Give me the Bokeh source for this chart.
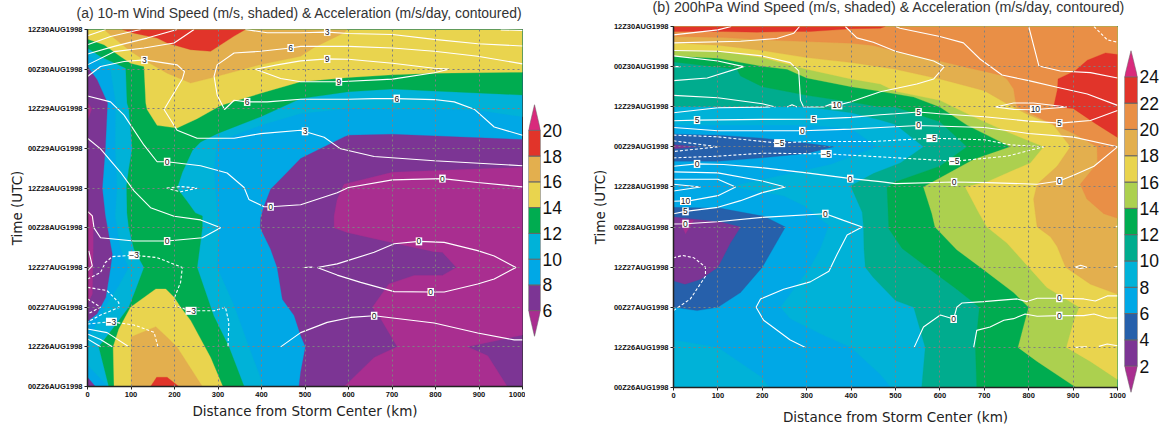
from bokeh.plotting import figure
from bokeh.layouts import row
from bokeh.models import FixedTicker, ColumnDataSource, Range1d, Title
from bokeh.core.properties import value
from bokeh.embed import file_html
from bokeh.resources import INLINE

# ---- axes ----
distance_ticks = [0, 100, 200, 300, 400, 500, 600, 700, 800, 900, 1000]
time_hours = [0, 12, 24, 36, 48, 60, 72, 84, 96, 108]
time_labels = ["00Z26AUG1998", "12Z26AUG1998", "00Z27AUG1998", "12Z27AUG1998", "00Z28AUG1998",
               "12Z28AUG1998", "00Z29AUG1998", "12Z29AUG1998", "00Z30AUG1998", "12Z30AUG1998"]
title_a = "(a) 10-m Wind Speed (m/s, shaded) & Acceleration (m/s/day, contoured)"
title_b = "(b) 200hPa Wind Speed (m/s, shaded) & Acceleration (m/s/day, contoured)"

# ---- colours by wind band ----
RED = "#E1342A"; TAN = "#E3AF4E"; YEL = "#E9D44E"; GRN = "#00AC50"; CYA = "#00B2D8"; BLU = "#00A8E6"
PUR = "#7C3594"; MAG = "#A92E90"; LGR = "#ACD04F"; TEA = "#00AC8E"; ORA = "#E98F46"; DBL = "#2660AB"; PNK = "#D92A7C"

# ---- panel (a) shaded bands, (km, hours since 00Z26) outlines of iso-speed regions ----
a_ge10 = [[(0,100.3),(53,95.8),(65,85.8),(64,72),(68,60),(64,51.6),(76,41.5),(95,36),(72,30.5),(45,25),(15,17.4),(0,14.4),(0,6.5),(47,0),(405,0),(371,12),(337,24.4),(298,36),(302,48),(298,52.5),(291,65.8),(298,74),(398,79),(490,82.6),(600,84.1),(697,83.9),(797,83.9),(897,83.6),(1000,81.6),(1000,108),(0,108)]]
a_ge12 = [[(0,102.4),(30,99.8),(88,96.3),(91,85.8),(95,84),(103,72),(95,65.8),(90,60.7),(91,52.5),(95,48),(107,41.5),(130,36),(110,29),(95,24),(61,18),(26,12),(49,0),(360,0),(325,12),(290,21.4),(252,36),(264,48),(264,51.6),(248,52.5),(229,56),(206,60),(218,64.8),(241,71.4),(260,74),(298,76.5),(398,81.6),(490,87.1),(600,89.2),(701,90),(797,89.4),(1000,88.2),(1000,108),(0,108)]]
a_ge14 = [[(0,105.1),(38,103.4),(76,99.8),(99,97.8),(130,96.8),(134,85.8),(137,83.8),(160,79),(206,78.2),(252,81),(306,85),(398,88.7),(490,92.2),(600,93.5),(701,94.3),(797,94.8),(1000,95.1),(1000,108),(0,108)],
          [(61,0),(59,12),(72,17.4),(99,24),(157,29.5),(180,29.5),(199,27),(214,24),(237,20),(283,8.8),(311,0)]]
a_ge16 = [[(38,108),(61,105.4),(99,101.4),(130,98.8),(183,94.8),(237,91.8),(283,93.3),(398,97.4),(490,99.9),(520,102.5),(590,107),(597,108)],
          [(100,0),(100,15),(157,18.1),(183,14.9),(206,11.9),(264,0)]]
a_ge18 = [[(80,108),(107,106.9),(160,105.4),(183,103.9),(237,101.9),(283,101.4),(337,106),(363,108)],
          [(145,0),(159,2.8),(183,2.8),(210,0)]]
a_le8 = [[(0,96.8),(22,92.8),(46,85.8),(41,72),(34,60),(41,51.6),(57,40),(53,36),(42,27),(22,22),(0,19.7)],
         [(0,2.8),(18,0),(0,0)],
         [(1000,74.7),(701,76.3),(600,76),(590,75.5),(490,69),(452,63.8),(421,59.7),(406,54.6),(398,51),(397,48),(421,41.5),(436,36),(448,26.4),(475,21.5),(490,15.4),(501,12),(490,4.3),(486,0),(1000,0)]]
a_le6 = [[(0,86),(10,84),(0,80.5)],
         [(0,53.5),(13,51.6),(13,48),(13,41.5),(11,28),(0,25)],
         [(1000,66.3),(701,64.8),(590,61.2),(574,56.6),(567,51.6),(567,48),(597,46.6),(704,43.4),(797,40.8),(816,40.6),(848,36),(816,33.6),(751,33.6),(693,31),(655,24),(674,20.5),(712,12),(659,8.8),(597,0.8),(590,0),(965,0),(920,9.3),(873,12),(1000,15.6)]]
a_layers = [(a_ge10, CYA), (a_ge12, GRN), (a_ge14, YEL), (a_ge16, TAN), (a_ge18, RED), (a_le8, PUR), (a_le6, MAG)]

# ---- panel (a) acceleration contours ----
a_solid = [
 [(0,106.1),(42,108)],
 [(0,103.4),(53,105.9),(122,108)],
 [(0,100.6),(61,102.9),(137,105.4),(206,108)],
 [(0,97.3),(61,101.3),(130,102.4),(199,103.9),(245,108)],
 [(0,93.8),(30,96.8),(84,98.3),(131,98.8),(206,97.3),(223,95.3),(218,93),(176,83.8),(206,77.5),(252,75.1),(337,75.1),(398,76.5),(490,77.5),(544,75.4),(582,71.9),(659,69.6),(797,68.3),(1000,66.8)],
 [(363,108),(413,107),(490,107),(551,107.2),(600,106.8),(701,106.5),(797,105),(897,103.7),(1000,103)],
 [(950,107.9),(1000,107.7)],
 [(1000,97.6),(897,99.9),(797,101.4),(701,102.4),(600,102.9),(490,102.9),(467,102.4),(398,101.4),(337,100.9),(298,97.3),(291,93.8),(298,88.2),(315,83.8),(337,86.6),(367,86.1),(413,86.1),(490,86.9),(600,86.9),(659,87.1),(711,87.1),(797,86.8),(843,86.1),(889,83.9),(935,78.5),(1000,76)],
 [(386,96),(436,97.3),(490,98.5),(551,99.1),(600,99),(701,97.8),(797,96.3),(831,96),(797,94.9),(701,93),(578,92.2),(490,92.2),(444,93.2),(386,96)],
 [(0,87.9),(53,86.1),(84,82.1),(130,73),(160,68),(183,68),(260,66.8),(321,64.6),(360,60.2),(371,56.6),(406,54.4),(421,54.4),(490,55),(574,58.6),(600,60.2),(701,62.5),(816,62.9),(897,61.7),(1000,60.4)],
 [(0,75.1),(30,71.9),(76,64.8),(107,59.2),(145,54.1),(199,51.5),(260,50.4),(306,48),(264,45),(183,44),(107,44),(30,45),(15,48),(11,51.6),(0,53)],
 [(528,36),(574,37.1),(659,40.6),(705,43.2),(762,43.9),(820,43.6),(897,41.1),(935,39.5),(985,36),(935,32.5),(897,31),(820,28.6),(789,28.6),(705,28.7),(628,31.5),(574,33.7),(528,36)],
 [(498,36),(517,36.1)],
 [(444,12),(490,16.3),(551,19.4),(605,20.9),(659,21.4),(797,19.2),(897,16.2),(981,14.1),(1000,14.1)],
 [(0,17.4),(45,16.3),(95,12)],
 [(0,15.9),(30,14.2),(57,12)],
 [(0,14.4),(30,12)],
 [(3,41),(11,36.5),(0,35)],
]
a_dashed = [
 [(182,60),(214,60.5),(252,60),(214,58.9),(182,60)],
 [(0,32.5),(30,34.5),(41,37.5),(57,39.3),(107,39.7),(160,39),(218,36),(214,31.5),(200,26.9),(200,24.4),(238,22.9),(291,22.9),(317,24),(325,19.4),(323,12)],
 [(0,30),(45,29),(72,25.4),(72,23.9),(30,21.6),(0,19.5)],
 [(0,26.5),(30,24),(0,21.9)],
 [(0,18.9),(53,19.6),(107,18.6),(153,16.4),(162,12)],
]
a_labels = ["3","3","3","6","6","6","9","9","0","0","0","0","0","0","0","\u22123","\u22123","\u22123"]
a_label_km = [131,551,500,467,367,711,551,578,183,421,816,183,762,789,659,107,238,55]
a_label_hr = [98.8,107.3,77.2,102.4,86.1,87.1,99.1,92.2,68,54.4,62.9,44,43.9,28.6,21.4,39.7,22.9,19.6]

# ---- panel (b) shaded bands ----
b_ge8 = [[(0,78.5),(300,78.5),(400,77.5),(459,72),(354,66.7),(204,62.3),(129,60.1),(249,57.3),(294,54.4),(350,48.5),(331,41.6),(308,36),(241,24),(263,20.6),(338,15.6),(400,12),(466,3.9),(490,0),(1000,0),(1000,108),(0,108)],
         [(0,14.2),(100,12),(200,2.9),(215,0),(0,0)]]
b_ge10 = [[(0,84),(300,84),(400,82.2),(466,80),(500,78.7),(563,72),(511,67.2),(450,64),(399,60.3),(425,52.4),(428,48),(429,41.6),(432,36),(450,32.9),(500,26),(541,24),(567,12),(559,0),(1000,0),(1000,108),(0,108)]]
b_ge12 = [[(0,97.4),(143,95.2),(151,93.2),(200,90),(300,87.4),(400,85.4),(466,83.9),(500,83.9),(600,79.5),(661,72),(600,66.2),(557,64.2),(496,61.3),(481,59.8),(485,47.5),(515,41.6),(571,36),(638,29.4),(689,24),(680,12),(683,0),(1000,0),(1000,108),(0,108)]]
b_ge14 = [[(0,99.2),(100,98.5),(200,96.1),(256,95.2),(300,92.6),(400,90),(466,88.6),(541,86.9),(600,83.9),(661,78.5),(759,72),(676,68.2),(563,60),(582,52),(589,48),(638,41.2),(691,36),(766,28.4),(800,24),(776,12),(819,7.8),(907,0),(1000,0),(1000,108),(0,108)]]
b_ge16 = [[(0,100.8),(100,100.6),(200,98.7),(300,95.2),(400,92.3),(466,90.8),(500,88.6),(600,85.9),(676,81),(751,76.5),(834,72),(804,67.2),(706,61.5),(657,60),(687,52.4),(706,48),(751,43.2),(800,36),(841,29.9),(914,24),(901,19.6),(885,12),(939,7.8),(1000,2.4),(1000,108),(0,108)]]
b_ge18 = [[(0,103.1),(100,102.4),(200,100.8),(300,98.7),(400,97.2),(500,95.2),(600,92.3),(700,88.8),(751,84.9),(800,81.5),(856,78.5),(894,72),(864,66.2),(819,60.8),(811,56.4),(815,52),(819,48),(849,45.1),(864,42.2),(883,36),(939,30.9),(1000,27.9),(1000,108),(0,108)]]
b_ge20 = [[(0,105),(114,104.7),(200,104),(300,103.5),(400,103),(450,102.3),(500,100.6),(600,97.7),(661,95.7),(713,94.2),(740,93.3),(751,92.3),(766,89.3),(770,85.9),(774,83.9),(834,80),(901,76),(954,72),(955,67.2),(916,60.8),(931,56.4),(969,52),(1000,50.6),(1000,108),(0,108)]]
b_ge22 = [[(0,106.5),(113,106.5),(188,106.3),(263,106.5),(308,106.5),(398,107.3),(466,107.5),(477,108),(0,108)],
          [(973,100.1),(1000,99.6),(1000,74.8),(950,79),(900,83.5),(856,83.9),(865,89.3),(866,92.3),(904,94.7),(932,97.9)]]
b_le6 = [[(0,75.8),(100,75.5),(200,74.6),(300,73.1),(361,72),(300,70),(200,68.7),(100,67.7),(0,67.7)],
         [(0,53.9),(106,53.6),(204,51.2),(252,48),(200,36),(151,28.4),(100,24),(53,23),(0,24)]]
b_le4 = [[(0,72.6),(53,72),(0,71.4)],
         [(0,51),(106,49.5),(151,48),(128,43.2),(100,36),(61,32.4),(26,30.9),(0,31.9)]]
b_le2 = [[(15,50),(45,50),(27,46)]]
b_layers = [(b_ge8, CYA), (b_ge10, TEA), (b_ge12, GRN), (b_ge14, LGR), (b_ge16, YEL), (b_ge18, TAN), (b_ge20, ORA), (b_ge22, RED), (b_le6, DBL), (b_le4, PUR), (b_le2, MAG)]

# ---- panel (b) acceleration contours ----
b_solid = [
 [(0,105.5),(100,107),(130,108)],
 [(0,103.1),(151,103.6),(233,104.4),(271,106),(284,108)],
 [(0,100.8),(100,100.6),(200,99.2),(263,97.2),(282,94.7),(286,85.9),(293,83.9),(338,83.9),(353,84.7),(368,84.4),(398,85.4),(466,88.5),(548,90.8),(586,92.3),(610,96),(586,97.7),(500,100.6),(450,103.3),(413,104.6),(387,108)],
 [(500,108),(510,107.5),(600,105),(653,103.1),(691,98.2),(740,93.5),(800,91.8),(864,89.8),(932,87.8),(1000,84.4)],
 [(800,108),(823,96.2),(871,94.7),(939,94.2),(1000,92.6)],
 [(0,96),(16,96)],
 [(0,91.8),(76,92.6),(158,96),(100,97.7),(0,99.2)],
 [(0,87.4),(100,86.7),(200,84.9),(230,83.9)],
 [(256,83.9),(267,84.6),(278,83.9)],
 [(0,82.2),(100,83.7),(218,83.9)],
 [(0,79.8),(53,80),(200,80.2),(316,80.3),(400,80.8),(466,81.6),(500,81.9),(552,82.4),(600,81.9),(700,81),(800,79.7),(870,79.1),(939,79.9),(1000,82.9)],
 [(0,77.8),(100,76.8),(290,76.8),(400,77.3),(466,77.8),(552,78.4),(700,77.8),(800,76),(901,74.9),(1000,72)],
 [(1000,72),(947,66.2),(901,63.5),(869,61.8),(819,60.8),(706,61.3),(632,61.5),(500,61),(466,61.6),(400,62.5),(300,64.2),(203,65.7),(113,66.7),(53,66.9),(0,66.2)],
 [(0,64.5),(100,64.2),(200,61.8),(252,60),(200,58.3),(151,55.9),(100,53.9),(27,52.7),(0,52)],
 [(0,62.3),(100,62.3),(140,60),(100,57.4),(38,55.9),(0,55.7)],
 [(0,60.8),(61,60),(0,58.8)],
 [(0,48.9),(27,49),(98,49.6),(200,50.9),(342,52),(383,50),(425,48),(391,45.6),(368,39.7),(350,34.8),(308,31.6),(248,29.4),(196,26.5),(186,24),(203,20.1),(263,14.2),(297,12)],
 [(542,12),(563,18.1),(601,21.7),(631,20.5),(638,24),(650,25.3),(698,25.7),(774,26.5),(796,25.7),(819,26.7),(869,26.7),(924,26.5),(950,25.9),(977,27.4),(1000,27.4)],
 [(676,12),(683,17.1),(713,18.1),(744,20.1),(766,20.6),(792,22),(819,21.3),(869,21.5),(924,21.5),(947,22),(977,20.8),(1000,20.8)],
 [(904,36),(917,36.6),(931,36),(917,35.6),(904,36)],
 [(992,36),(1000,36.3)],
 [(996,48),(1000,48.3)],
 [(904,12),(931,12.2)],
 [(958,12.3),(977,13),(1000,12.5)],
 [(725,83.9),(766,85.1),(811,85.1),(886,83.9),(811,83.1),(766,83.2),(725,83.9)],
]
b_dashed = [
 [(947,108),(977,104),(1000,103.3)],
 [(0,75.5),(100,75),(200,73.6),(239,73.1),(300,73.6),(450,73.6),(582,74.6),(700,74.1),(759,72.6),(834,72)],
 [(0,73.8),(100,72),(0,70.6)],
 [(0,68.7),(100,69.2),(200,70.1),(344,69.9),(466,69),(633,67.7),(751,69.2),(834,72)],
 [(0,23),(38,26.5),(72,33.3),(72,36),(46,38.8),(20,39.5),(0,38.8)],
]
b_labels = ["10","5","5","5","5","0","0","10","\u22125","\u22125","\u22125","\u22125","0","0","0","0","10","5","0","0","0","0","0"]
b_label_km = [368,53,316,552,869,290,552,815,239,344,582,633,53,398,632,869,27,27,342,27,631,869,869]
b_label_hr = [84.4,80,80.3,82.4,79.1,76.8,78.4,83.3,73.1,69.9,74.6,67.7,66.9,62.5,61.5,61.8,55.8,52.7,52,49,20.5,26.7,21.5]

# ---- colour bars ----
a_bar_levels = [4, 6, 8, 10, 12, 14, 16, 18, 20]
a_bar_colors = [MAG, PUR, BLU, CYA, GRN, YEL, TAN, RED, PNK]
a_bar_ticks = [6, 8, 10, 12, 14, 16, 18, 20]
b_bar_levels = [0, 2, 4, 6, 8, 10, 12, 14, 16, 18, 20, 22, 24]
b_bar_colors = [MAG, PUR, DBL, BLU, CYA, TEA, GRN, LGR, YEL, TAN, ORA, RED, PNK]
b_bar_ticks = [2, 4, 6, 8, 10, 12, 14, 16, 18, 20, 22, 24]

H = 427
TICK_FONT = "Liberation Sans"


def xs_ys(lines):
    return [[pt[0] for pt in ln] for ln in lines], [[pt[1] for pt in ln] for ln in lines]


def panel(width, height, lift, left, right, top, bottom, layers, solid, dashed, labels, lkm, lhr, base, title, toff, tstand, tsize, ylab_gap, xlab_gap):
    p = figure(width=width, height=height, x_range=Range1d(0, 1000), y_range=Range1d(0, 108),
               output_backend="svg", toolbar_location=None, frame_align=False,
               styles={"margin-top": f"-{lift}px"},
               min_border_left=left, min_border_right=right, min_border_top=top, min_border_bottom=bottom)
    p.background_fill_color = base
    p.border_fill_color = None
    p.outline_line_color = "#333333"
    p.outline_line_width = 1
    for polys, color in layers:
        a, b = xs_ys(polys)
        p.patches(a, b, fill_color=color, line_color=color, line_width=0.3)
    a, b = xs_ys(solid)
    p.multi_line(a, b, line_color="white", line_width=1.1)
    a, b = xs_ys(dashed)
    p.multi_line(a, b, line_color="white", line_width=1.1, line_dash="3 2")
    src = ColumnDataSource(dict(x=lkm, y=lhr, t=labels, w=[2 + 4.5 * len(s) for s in labels]))
    box = p.rect(x="x", y="y", width="w", height=8, width_units="screen", height_units="screen", source=src,
                 fill_color="white", line_color=None)
    box.level = "annotation"
    txt = p.text(x="x", y="y", text="t", source=src, text_align="center", text_baseline="middle",
                 text_font_size="8.5px", text_font=value("Liberation Sans"), text_color="#111111")
    txt.level = "annotation"
    for g, ticks in ((p.xgrid, distance_ticks), (p.ygrid, time_hours)):
        g.ticker = FixedTicker(ticks=ticks)
        g.grid_line_color = "#808080"
        g.grid_line_dash = "2 3"
        g.grid_line_width = 1
        g.level = "guide"
    ax = p.xaxis[0]
    ax.ticker = FixedTicker(ticks=distance_ticks)
    ax.axis_label = "Distance from Storm Center (km)"
    ay = p.yaxis[0]
    ay.ticker = FixedTicker(ticks=time_hours)
    ay.major_label_overrides = {h: s for h, s in zip(time_hours, time_labels)}
    ay.axis_label = "Time (UTC)"
    for axis in (ax, ay):
        axis.major_label_text_font = TICK_FONT
        axis.major_label_text_font_style = "bold"
        axis.major_label_text_font_size = "7.5px"
        axis.major_label_text_color = "#111111"
        axis.major_tick_in = 0
        axis.major_tick_out = 3
        axis.minor_tick_line_color = None
        axis.axis_line_color = "#222222"
        axis.axis_line_width = 1.5
        axis.major_tick_line_color = "#222222"
        axis.major_label_standoff = 2
        axis.axis_label_text_font = "DejaVu Sans"
        axis.axis_label_text_font_style = "normal"
        axis.axis_label_text_font_size = "13.5px"
        axis.axis_label_text_color = "#222222"
    ax.axis_label_standoff = xlab_gap
    ay.axis_label_standoff = ylab_gap
    p.add_layout(Title(text=title, align="left", offset=toff, standoff=tstand, text_font="Liberation Sans",
                       text_font_size=tsize, text_font_style="normal", text_color="#333333"), "above")
    return p


def bar(width, left, right, top, bottom, levels, colors, ticks, overlap=0):
    lo, hi = levels[0], levels[-1] + 2
    p = figure(width=width, height=H, x_range=Range1d(0, 1), y_range=Range1d(lo, hi),
               output_backend="svg", toolbar_location=None, x_axis_location=None, y_axis_location="right", frame_align=False,
               styles={"margin-left": f"-{overlap}px"},
               min_border_left=left, min_border_right=right, min_border_top=top, min_border_bottom=bottom)
    p.outline_line_color = None
    p.border_fill_color = None
    p.background_fill_color = None
    p.grid.visible = False
    mid = levels[1:-1]
    p.quad(left=0, right=1, bottom=mid, top=[m + 2 for m in mid], fill_color=colors[1:-1],
           line_color="#666666", line_width=1)
    p.patch([0, 1, 0.5], [hi - 2, hi - 2, hi], fill_color=colors[-1], line_color="#666666", line_width=0.5)
    p.patch([0, 1, 0.5], [lo + 2, lo + 2, lo], fill_color=colors[0], line_color="#666666", line_width=0.5)
    ay = p.yaxis[0]
    ay.ticker = FixedTicker(ticks=ticks)
    ay.major_tick_in = 0
    ay.major_tick_out = 0
    ay.major_tick_line_color = None
    ay.minor_tick_line_color = None
    ay.axis_line_color = None
    ay.major_label_standoff = 2
    ay.major_label_text_font = "Liberation Sans"
    ay.major_label_text_font_size = "17.5px"
    ay.major_label_text_color = "#111111"
    return p


p_a = panel(525, 433, 6, 87, 3, 34, 41, a_layers, a_solid, a_dashed, a_labels, a_label_km, a_label_hr, BLU, title_a, -11, 17, "13.95px", 0, 3)
c_a = bar(62, 3, 47, 104, H - 336, a_bar_levels, a_bar_colors, a_bar_ticks)
p_b = panel(540, 442, 15, 86, 10, 40, 36, b_layers, b_solid, b_dashed, b_labels, b_label_km, b_label_hr, BLU, title_b, -21, 23, "14.25px", 3, 8)
c_b = bar(44, 5, 26, 50, H - 392, b_bar_levels, b_bar_colors, b_bar_ticks, overlap=8)

page = row(p_a, c_a, p_b, c_b, spacing=0)
open("out.html", "w").write(file_html(page, INLINE))
